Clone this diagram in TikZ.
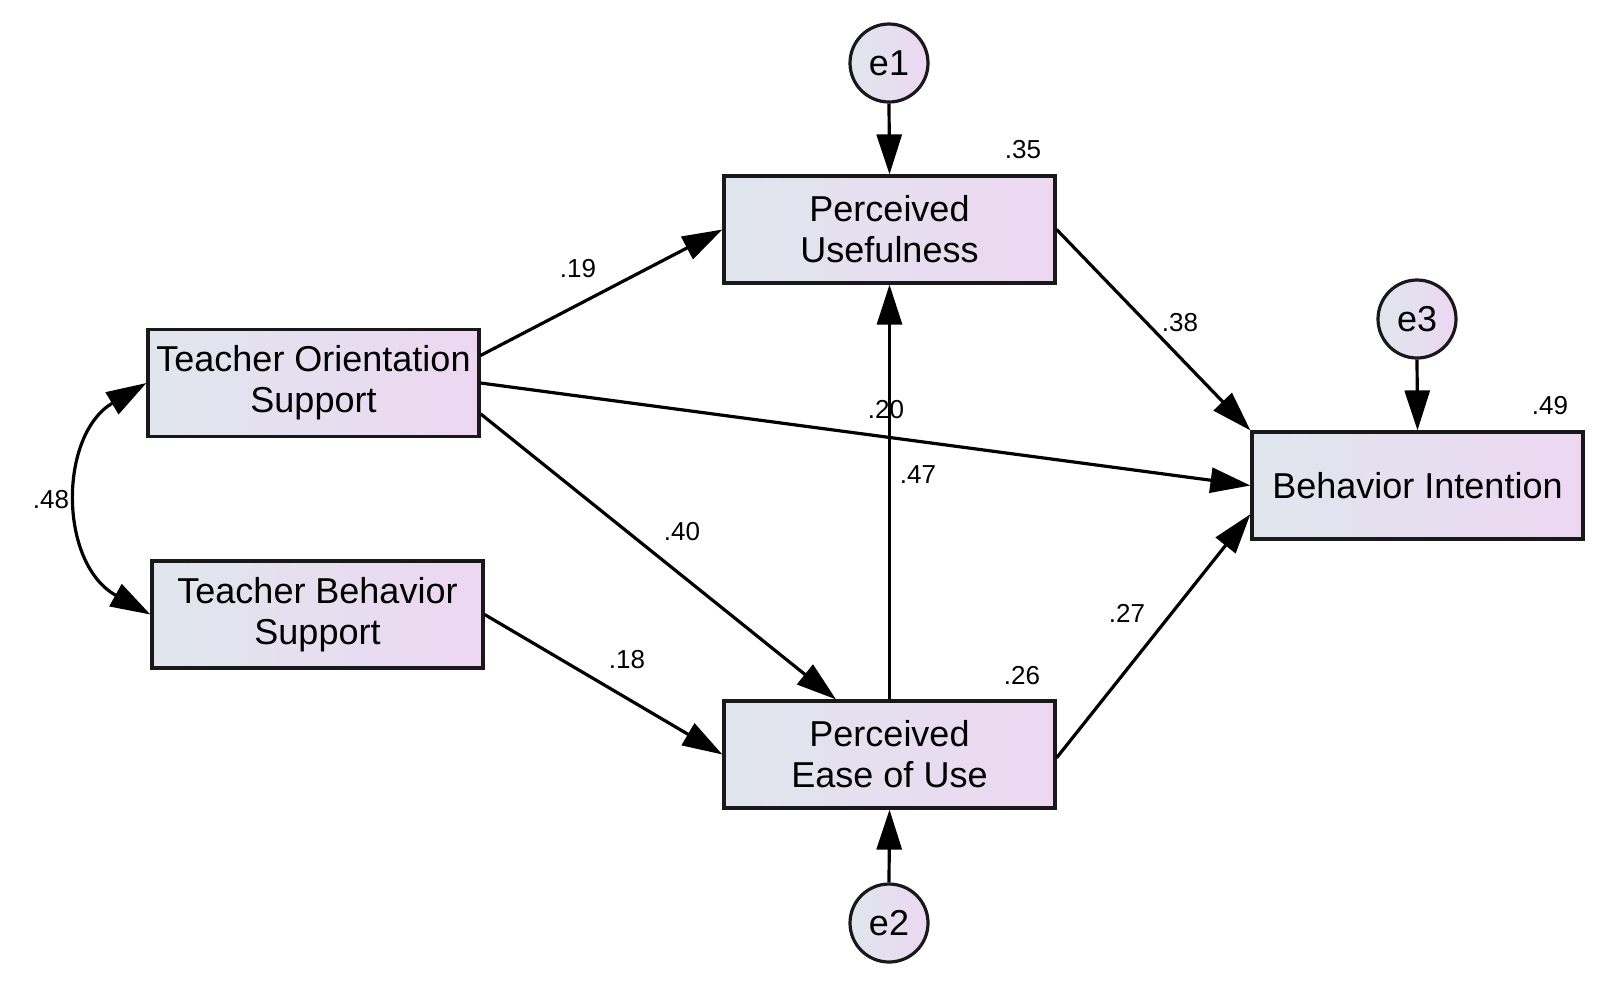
\documentclass[tikz,border=0pt]{standalone}
\usepackage{fontspec}
\setmainfont{Liberation Sans}
\usetikzlibrary{arrows.meta,calc}
\definecolor{leftc}{RGB}{224,230,238}
\definecolor{rightc}{RGB}{237,215,241}
\tikzset{
  obs/.style={draw=black!90, line width=1.6pt, rectangle, left color=leftc, right color=rightc,
    minimum width=165.5pt, minimum height=53.5pt, inner sep=0pt, align=center,
    font=\fontsize{18}{20.5}\selectfont},
  err/.style={draw=black!90, line width=1.6pt, circle, left color=leftc, right color=rightc,
    minimum size=39pt, inner sep=0pt, font=\fontsize{18}{20}\selectfont},
  lab/.style={inner sep=0pt, font=\fontsize{13}{15}\selectfont},
  path/.style={line width=1.6pt, draw=black, -{Triangle[length=20pt,width=12.5pt]}},
  cov/.style={line width=1.6pt, draw=black, {Triangle[length=20pt,width=12.5pt]}-{Triangle[length=20pt,width=12.5pt]}}
}
\begin{document}
\begin{tikzpicture}[x=0.5pt,y=-0.5pt]
\useasboundingbox (0,0) rectangle (1610,1003);
\node[obs] (tos) at (313.5,383) {Teacher Orientation\\Support};
\node[obs] (tbs) at (317.5,614.5) {Teacher Behavior\\Support};
\node[obs] (pu) at (889.5,229.5) {Perceived\\Usefulness};
\node[obs] (peou) at (889.5,754.5) {Perceived\\Ease of Use};
\node[obs] (bi) at (1417.5,485.5) {Behavior Intention};
\node[err] (e1) at (889,63) {e1};
\node[err] (e2) at (889,923) {e2};
\node[err] (e3) at (1417,319) {e3};
% paths
\draw[path] (e1.south) -- (pu.north);
\draw[path] (e2.north) -- (peou.south);
\draw[path] (e3.south) -- (bi.north);
\draw[path] ($(tos.north east)!0.25!(tos.south east)$) -- (pu.west);
\draw[path] (tos.east) -- (bi.west);
\draw[path] ($(tos.north east)!0.78!(tos.south east)$) -- ($(peou.north west)!0.34!(peou.north east)$);
\draw[path] (tbs.east) -- (peou.west);
\draw[path] (pu.east) -- (bi.north west);
\draw[path] ($(peou.north east)!0.53!(peou.south east)$) -- ($(bi.north west)!0.76!(bi.south west)$);
\draw[path] (peou.north) -- (pu.south);
\draw[cov] (tos.west) .. controls ($(tos.west)+(-88,52)$) and ($(tbs.west)+(-92,-51)$) .. (tbs.west);
% labels
\node[lab] (l35) at (1023,150) {.35};
\node[lab] (l19) at (578,269) {.19};
\node[lab] (l38) at (1180,323) {.38};
\node[lab] (l49) at (1550,406) {.49};
\node[lab] (l20) at (886,410) {.20};
\node[lab] (l47) at (918,475) {.47};
\node[lab] (l48) at (51,500) {.48};
\node[lab] (l40) at (682,532) {.40};
\node[lab] (l27) at (1127,613) {.27};
\node[lab] (l18) at (627,660) {.18};
\node[lab] (l26) at (1022,676) {.26};
\end{tikzpicture}
\end{document}
